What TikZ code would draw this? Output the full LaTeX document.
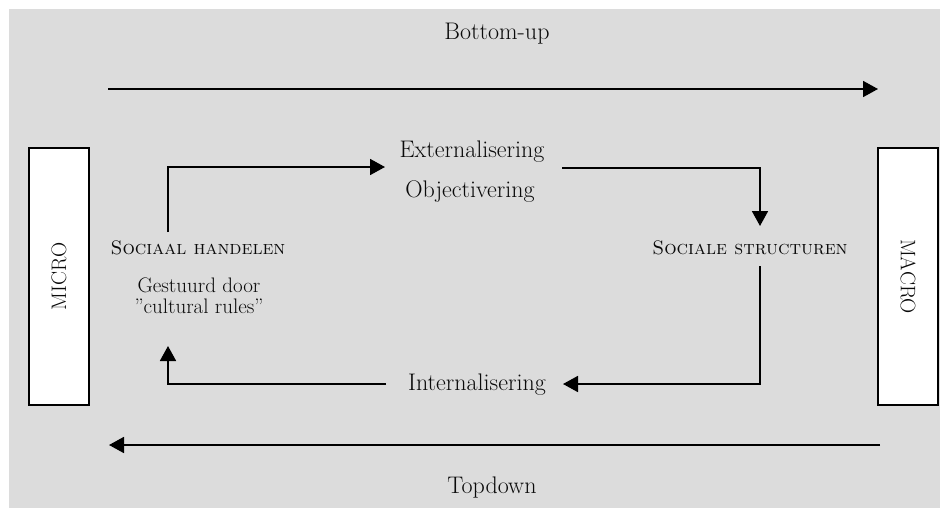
\documentclass[tikz,border=0pt]{standalone}
\usetikzlibrary{arrows.meta}
\definecolor{panel}{RGB}{220,220,220}
\definecolor{ink}{RGB}{10,10,10}
\begin{document}
\begin{tikzpicture}[x=1pt,y=-1pt,
  flow/.style={line width=1.8pt,-{Triangle[length=15pt,width=16pt]}},
  lbl/.style={font=\fontsize{24}{28}\selectfont,inner sep=0pt,anchor=base,text=ink},
  sclbl/.style={font=\fontsize{19.5}{23}\selectfont,inner sep=0pt,anchor=base,text=ink},
  small/.style={font=\fontsize{21}{21}\selectfont,inner sep=0pt,anchor=base,text=ink},
  levelbox/.style={draw,line width=2pt,fill=white,minimum width=257pt,minimum height=60pt,
    inner sep=0pt,font=\fontsize{21}{25}\selectfont,text=ink},
]
\useasboundingbox (0,0) rectangle (940,517);
\fill[panel] (9,9) rectangle (940,508);

% level boxes at both sides
\node[levelbox,rotate=90] (micro) at (59,276.5) {MICRO};
\node[levelbox,rotate=-90] (macro) at (908,276.5) {MACRO};

% texts
\node[lbl] (bu) at (497,39) {Bottom-up};
\node[lbl] (td) at (492,493) {Topdown};
\node[lbl] (ext) at (472,157) {Externalisering};
\node[lbl] (obj) at (470,197) {Objectivering};
\node[sclbl] (sh) at (198,254) {\textsc{Sociaal handelen}};
\node[sclbl] (ss) at (750,254) {\textsc{Sociale structuren}};
\node[lbl] (int) at (477,390) {Internalisering};
\node[small,align=center] (rules) at (199,313) {Gestuurd door\\''cultural rules''};

% long arrows
\coordinate (buL) at (108,89);
\coordinate (buR) at (878,89);
\coordinate (tdR) at (880,445);
\coordinate (tdL) at (109,445);
\draw[flow] (buL) -- (buR);
\draw[flow] (tdR) -- (tdL);

% cycle
\coordinate (c1) at (168,232);
\coordinate (c1t) at (385,167);
\coordinate (c2) at (562,168);
\coordinate (c2t) at (760,226);
\coordinate (c3) at (760,266);
\coordinate (c3t) at (563,384);
\coordinate (c4) at (386,384);
\coordinate (c4t) at (168,346);
\draw[flow] (c1) |- (c1t);
\draw[flow] (c2) -| (c2t);
\draw[flow] (c3) |- (c3t);
\draw[flow] (c4) -| (c4t);
\end{tikzpicture}
\end{document}
